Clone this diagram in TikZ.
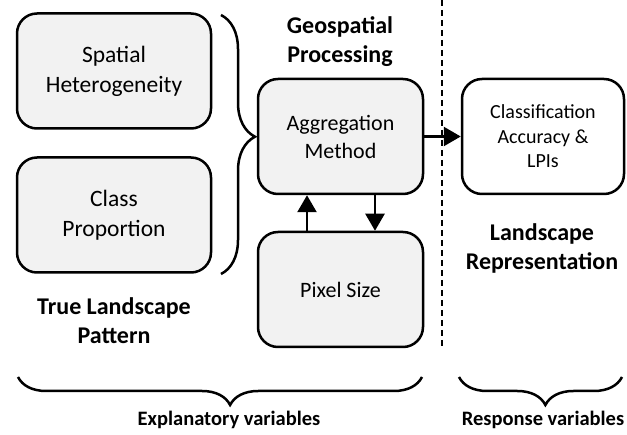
\documentclass[tikz,border=0pt]{standalone}
\usepackage{fontspec}
\setmainfont{Carlito}
\usetikzlibrary{positioning,arrows.meta,decorations.pathreplacing}
\definecolor{bb}{RGB}{242,242,242}
\definecolor{kk}{RGB}{0,0,0}
\def\height{115pt}
\def\width{165pt}
\tikzset{
  factor/.style={draw=kk,rectangle,rounded corners=20pt,line width=2.5pt,fill=bb,align=center,
    minimum height=\height,minimum width=\width,font=\fontsize{22}{28}\selectfont},
  pattern/.style={factor,minimum width=194pt,font=\fontsize{23.5}{30}\selectfont},
  result/.style={factor,fill=white,font=\fontsize{20}{24.5}\selectfont},
  heading/.style={align=center,font=\bfseries\fontsize{24}{29}\selectfont},
  arr/.style={line width=2.5pt,-{Triangle[width=19pt,length=17pt]}},
  brc/.style={line width=2.5pt,decorate,decoration={brace,amplitude=#1}}
}
\begin{document}
\begin{tikzpicture}[x=1pt,y=-1pt]
\useasboundingbox (0,0) rectangle (627,435);

\node[pattern] (spat) at (114,71) {Spatial\\Heterogeneity};
\node[pattern] (prop) at (114,215) {Class\\Proportion};
\node[factor] (agg) at (340.5,136.5) {Aggregation\\Method};
\node[factor] (pix) at (340.5,289.5) {Pixel Size};
\node[result,minimum width=162pt] (acc) at (543,136.5) {Classification\\Accuracy \&\\LPIs};

\node[heading] (geo) at (340,42) {Geospatial\\Processing};
\node[heading] (land) at (542,248) {Landscape\\Representation};
\node[heading] (truel) at (114,321) {True Landscape\\Pattern};
\node[font=\bfseries\fontsize{20.5}{24}\selectfont] (expl) at (229,420) {Explanatory variables};
\node[font=\bfseries\fontsize{20.5}{24}\selectfont] (resp) at (543,420) {Response variables};

% arrows
\coordinate (upx) at (307,0);
\coordinate (dnx) at (375,0);
\draw[arr] (pix.north -| upx) -- (agg.south -| upx);
\draw[arr] (agg.south -| dnx) -- (pix.north -| dnx);
\draw[arr] (agg) -- (acc);

% divider
\draw[line width=1.5pt,dash pattern=on 6pt off 4pt] (442,0) -- (442,348);

% braces
\draw[brc=34pt,decoration={aspect=0.47}] (221,15) -- (221,274);
\draw[brc=28pt,decoration={mirror,aspect=0.525}] (18,377) -- (422,377);
\draw[brc=28pt,decoration={mirror,aspect=0.53}] (459,377) -- (622,377);
\end{tikzpicture}
\end{document}
